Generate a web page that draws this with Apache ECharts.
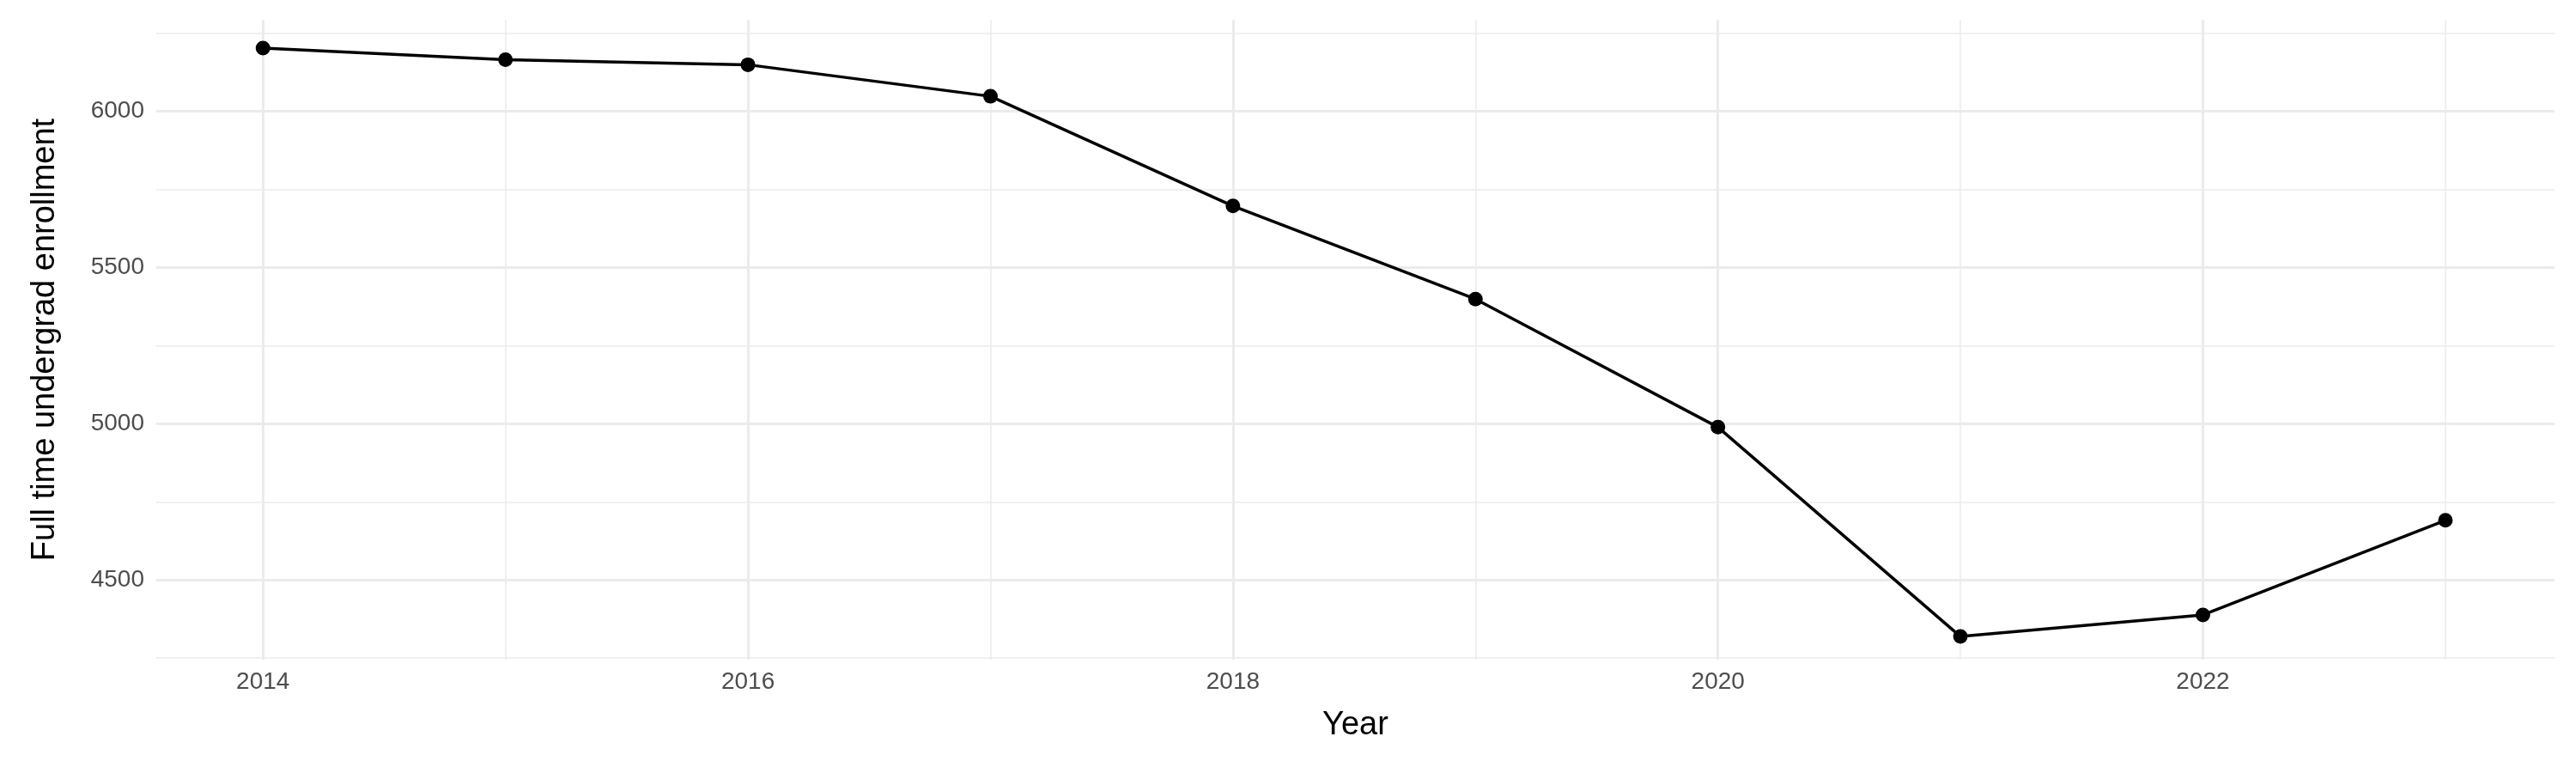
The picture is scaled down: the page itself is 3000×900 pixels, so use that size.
<!DOCTYPE html>
<html><head><meta charset="utf-8">
<script src="https://cdn.jsdelivr.net/npm/echarts@6/dist/echarts.min.js"></script>
<style>html,body{margin:0;padding:0;background:#fff}#c{width:3000px;height:900px}</style>
</head><body><div id="c"></div>
<script>
const years = [2014,2015,2016,2017,2018,2019,2020,2021,2022,2023];
const enrollment = [6202,6165,6149,6048,5697,5399,4989,4319,4388,4691];
const xMajor = [2014,2016,2018,2020,2022];
const xMinor = [2015,2017,2019,2021,2023];
const yMajor = [4500,5000,5500,6000];
const yMinor = [4250,4750,5250,5750,6250];
const X0=2013.56, X1=2023.45, Y0=4245, Y1=6293;
const font='Liberation Sans, Arial, sans-serif';
function xa(vals,w,labels,name){return {type:'value',position:'bottom',min:X0,max:X1,name:name||'',nameLocation:'middle',nameGap:58,
 nameTextStyle:{fontSize:38,color:'#000',fontFamily:font},
 axisLine:{show:false},axisTick:{show:false,customValues:vals},
 axisLabel:{show:labels,customValues:vals,formatter:v=>String(v),fontSize:28,color:'#4d4d4d',fontFamily:font,margin:12},
 splitLine:{show:true,lineStyle:{color:'#ebebeb',width:w}}};}
function ya(vals,w,labels,name){return {type:'value',position:'left',min:Y0,max:Y1,name:name||'',nameLocation:'middle',nameGap:110,
 nameTextStyle:{fontSize:38,color:'#000',fontFamily:font},
 axisLine:{show:false},axisTick:{show:false,customValues:vals},
 axisLabel:{show:labels,customValues:vals,formatter:v=>String(v),fontSize:28,color:'#4d4d4d',fontFamily:font,margin:14},
 splitLine:{show:true,lineStyle:{color:'#ebebeb',width:w}}};}
const chart=echarts.init(document.getElementById('c'));
chart.setOption({animation:false,
 grid:{left:182,right:25,top:23,bottom:132,containLabel:false},
 xAxis:[xa(xMinor,1.5,false),xa(xMajor,3,true,'Year')],
 yAxis:[ya(yMinor,1.5,false),ya(yMajor,3,true,'Full time undergrad enrollment')],
 series:[{type:'line',xAxisIndex:1,yAxisIndex:1,data:years.map((y,i)=>[y,enrollment[i]]),
  symbol:'circle',symbolSize:17,lineStyle:{color:'#000',width:3.5},itemStyle:{color:'#000'}}]
});
</script></body></html>
